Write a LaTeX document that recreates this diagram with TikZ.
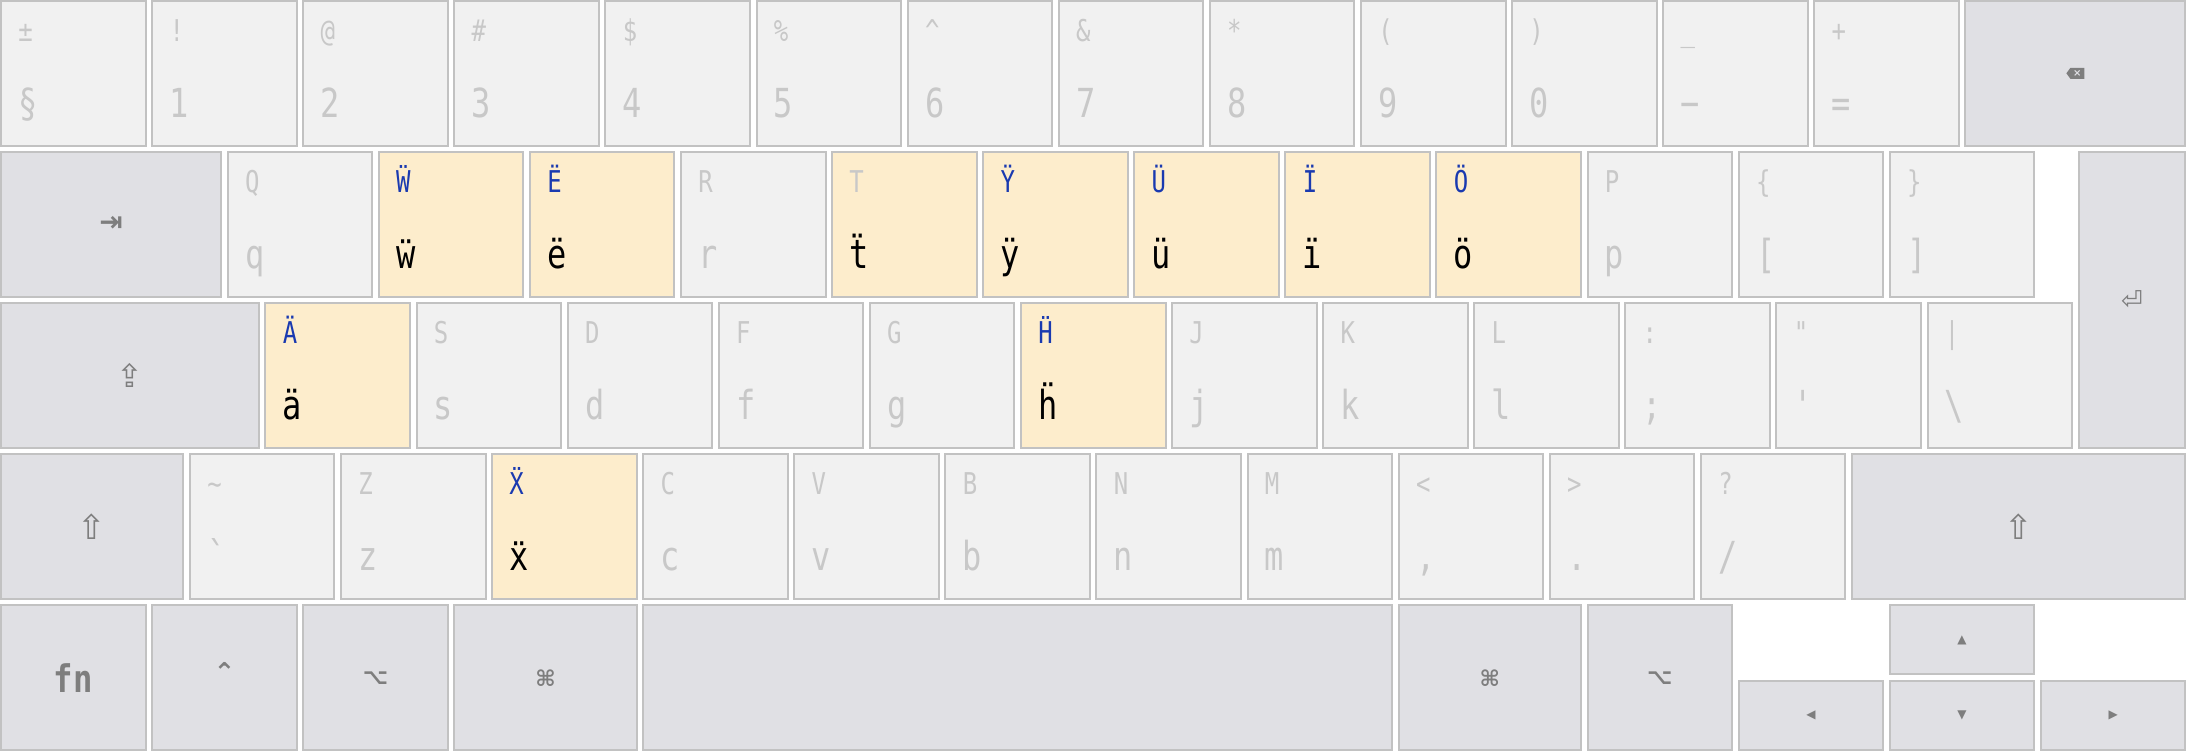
\documentclass[tikz,border=0pt]{standalone}
\usepackage{fontspec}
\newfontfamily\kf[FakeStretch=0.8]{DejaVu Sans Mono}
\newfontfamily\kfb[FakeStretch=0.85]{DejaVu Sans Mono Bold}
\newfontfamily\symf{DejaVu Sans}
\newfontfamily\symb{DejaVu Sans Bold}
\definecolor{keyfill}{HTML}{F1F1F1}
\definecolor{modfill}{HTML}{E0E0E4}
\definecolor{hlfill}{HTML}{FDEDCC}
\definecolor{keyline}{HTML}{C2C2C2}
\definecolor{dimtext}{HTML}{C8C8C8}
\definecolor{bluetext}{HTML}{1A3AB0}
\definecolor{modtext}{HTML}{7E7E7E}
\newcommand\Key[6]{\node[keybase,#6,minimum width={(#4*151.1-6.5)*0.5pt},minimum height={(#5*151.1-6.5)*0.5pt}] (#1) at ({#2*151.1+1+(#4*151.1-6.5)/2},{#3*151.1+1+(#5*151.1-6.5)/2}) {};}
\newcommand\Lab[5]{\path (#1.north west) ++(17,40) node[uplab,#4] (#1u) {#2};\path (#1.north west) ++(17,116) node[lolab,#5] (#1l) {#3};}
\newcommand\Sym[3]{\node[glyph,#3] (#1s) at (#1) {#2};}
\begin{document}
\begin{tikzpicture}[x=0.5pt,y=-0.5pt,
  keybase/.style={draw=keyline,line width=1pt,rectangle,inner sep=0pt,outer sep=0pt},
  plain/.style={fill=keyfill}, mod/.style={fill=modfill}, hl/.style={fill=hlfill},
  uplab/.style={anchor=base west,inner sep=0pt,font=\fontsize{15}{15}\kf},
  lolab/.style={anchor=base west,inner sep=0pt,font=\fontsize{20}{20}\kf},
  dim/.style={text=dimtext}, blu/.style={text=bluetext}, blk/.style={text=black},
  glyph/.style={text=modtext,inner sep=0pt}]
\useasboundingbox (0,0) rectangle (2186,751);
% row 0
\Key{kA0}{0}{0}{1}{1}{plain}\Lab{kA0}{±}{§}{dim}{dim}
\Key{kA1}{1}{0}{1}{1}{plain}\Lab{kA1}{!}{1}{dim}{dim}
\Key{kA2}{2}{0}{1}{1}{plain}\Lab{kA2}{@}{2}{dim}{dim}
\Key{kA3}{3}{0}{1}{1}{plain}\Lab{kA3}{\#}{3}{dim}{dim}
\Key{kA4}{4}{0}{1}{1}{plain}\Lab{kA4}{\$}{4}{dim}{dim}
\Key{kA5}{5}{0}{1}{1}{plain}\Lab{kA5}{\%}{5}{dim}{dim}
\Key{kA6}{6}{0}{1}{1}{plain}\Lab{kA6}{\textasciicircum}{6}{dim}{dim}
\Key{kA7}{7}{0}{1}{1}{plain}\Lab{kA7}{\&}{7}{dim}{dim}
\Key{kA8}{8}{0}{1}{1}{plain}\Lab{kA8}{*}{8}{dim}{dim}
\Key{kA9}{9}{0}{1}{1}{plain}\Lab{kA9}{(}{9}{dim}{dim}
\Key{kA10}{10}{0}{1}{1}{plain}\Lab{kA10}{)}{0}{dim}{dim}
\Key{kA11}{11}{0}{1}{1}{plain}\Lab{kA11}{\_}{−}{dim}{dim}
\Key{kA12}{12}{0}{1}{1}{plain}\Lab{kA12}{+}{=}{dim}{dim}
\Key{kBsp}{13}{0}{1.5}{1}{mod}
\fill[modtext] (kBsp) ++(-9,0) -- ++(4,-5.5) -- ++(14,0) -- ++(0,11) -- ++(-14,0) -- cycle;
\node[text=modfill,inner sep=0pt,font=\fontsize{5}{5}\symb] (kBspx) at ([xshift=1pt]kBsp) {×};
% row 1
\Key{kTab}{0}{1}{1.5}{1}{mod}\Sym{kTab}{⇥}{font=\fontsize{14}{14}\symb}
\Key{kQ}{1.5}{1}{1}{1}{plain}\Lab{kQ}{Q}{q}{dim}{dim}
\Key{kW}{2.5}{1}{1}{1}{hl}\Lab{kW}{Ẅ}{ẅ}{blu}{blk}
\Key{kE}{3.5}{1}{1}{1}{hl}\Lab{kE}{Ë}{ë}{blu}{blk}
\Key{kR}{4.5}{1}{1}{1}{plain}\Lab{kR}{R}{r}{dim}{dim}
\Key{kT}{5.5}{1}{1}{1}{hl}\Lab{kT}{T}{ẗ}{dim}{blk}
\Key{kY}{6.5}{1}{1}{1}{hl}\Lab{kY}{Ÿ}{ÿ}{blu}{blk}
\Key{kU}{7.5}{1}{1}{1}{hl}\Lab{kU}{Ü}{ü}{blu}{blk}
\Key{kI}{8.5}{1}{1}{1}{hl}\Lab{kI}{Ï}{ï}{blu}{blk}
\Key{kO}{9.5}{1}{1}{1}{hl}\Lab{kO}{Ö}{ö}{blu}{blk}
\Key{kP}{10.5}{1}{1}{1}{plain}\Lab{kP}{P}{p}{dim}{dim}
\Key{kLb}{11.5}{1}{1}{1}{plain}\Lab{kLb}{\{}{[}{dim}{dim}
\Key{kRb}{12.5}{1}{1}{1}{plain}\Lab{kRb}{\}}{]}{dim}{dim}
\Key{kRet}{13.75}{1}{0.75}{2}{mod}\Sym{kRet}{⏎}{font=\fontsize{13}{13}\symf}
% row 2
\Key{kCaps}{0}{2}{1.75}{1}{mod}\Sym{kCaps}{⇪}{font=\fontsize{16}{16}\symf}
\Key{kAa}{1.75}{2}{1}{1}{hl}\Lab{kAa}{Ä}{ä}{blu}{blk}
\Key{kS}{2.75}{2}{1}{1}{plain}\Lab{kS}{S}{s}{dim}{dim}
\Key{kD}{3.75}{2}{1}{1}{plain}\Lab{kD}{D}{d}{dim}{dim}
\Key{kF}{4.75}{2}{1}{1}{plain}\Lab{kF}{F}{f}{dim}{dim}
\Key{kG}{5.75}{2}{1}{1}{plain}\Lab{kG}{G}{g}{dim}{dim}
\Key{kH}{6.75}{2}{1}{1}{hl}\Lab{kH}{Ḧ}{ḧ}{blu}{blk}
\Key{kJ}{7.75}{2}{1}{1}{plain}\Lab{kJ}{J}{j}{dim}{dim}
\Key{kK}{8.75}{2}{1}{1}{plain}\Lab{kK}{K}{k}{dim}{dim}
\Key{kL}{9.75}{2}{1}{1}{plain}\Lab{kL}{L}{l}{dim}{dim}
\Key{kSc}{10.75}{2}{1}{1}{plain}\Lab{kSc}{:}{;}{dim}{dim}
\Key{kQt}{11.75}{2}{1}{1}{plain}\Lab{kQt}{"}{'}{dim}{dim}
\Key{kBs}{12.75}{2}{1}{1}{plain}\Lab{kBs}{|}{\textbackslash}{dim}{dim}
% row 3
\Key{kLsh}{0}{3}{1.25}{1}{mod}\Sym{kLsh}{⇧}{font=\fontsize{17}{17}\symf}
\Key{kGr}{1.25}{3}{1}{1}{plain}\Lab{kGr}{\textasciitilde}{`}{dim}{dim}
\Key{kZ}{2.25}{3}{1}{1}{plain}\Lab{kZ}{Z}{z}{dim}{dim}
\Key{kX}{3.25}{3}{1}{1}{hl}\Lab{kX}{Ẍ}{ẍ}{blu}{blk}
\Key{kC}{4.25}{3}{1}{1}{plain}\Lab{kC}{C}{c}{dim}{dim}
\Key{kV}{5.25}{3}{1}{1}{plain}\Lab{kV}{V}{v}{dim}{dim}
\Key{kB}{6.25}{3}{1}{1}{plain}\Lab{kB}{B}{b}{dim}{dim}
\Key{kN}{7.25}{3}{1}{1}{plain}\Lab{kN}{N}{n}{dim}{dim}
\Key{kM}{8.25}{3}{1}{1}{plain}\Lab{kM}{M}{m}{dim}{dim}
\Key{kCm}{9.25}{3}{1}{1}{plain}\Lab{kCm}{<}{,}{dim}{dim}
\Key{kPd}{10.25}{3}{1}{1}{plain}\Lab{kPd}{>}{.}{dim}{dim}
\Key{kSl}{11.25}{3}{1}{1}{plain}\Lab{kSl}{?}{/}{dim}{dim}
\Key{kRsh}{12.25}{3}{2.25}{1}{mod}\Sym{kRsh}{⇧}{font=\fontsize{17}{17}\symf}
% row 4
\Key{kFn}{0}{4}{1}{1}{mod}\Sym{kFn}{fn}{font=\fontsize{19}{19}\kfb}
\Key{kCtl}{1}{4}{1}{1}{mod}\Sym{kCtl}{⌃}{font=\fontsize{13}{13}\symb,yshift=3pt}
\Key{kOpt}{2}{4}{1}{1}{mod}\Sym{kOpt}{⌥}{font=\fontsize{11}{11}\symb}
\Key{kCmd}{3}{4}{1.25}{1}{mod}\Sym{kCmd}{⌘}{font=\fontsize{11}{11}\symb}
\Key{kSpc}{4.25}{4}{5}{1}{mod}
\Key{kRcmd}{9.25}{4}{1.25}{1}{mod}\Sym{kRcmd}{⌘}{font=\fontsize{11}{11}\symb}
\Key{kRopt}{10.5}{4}{1}{1}{mod}\Sym{kRopt}{⌥}{font=\fontsize{11}{11}\symb}
\Key{kLeft}{11.5}{4.5}{1}{0.5}{mod}\Sym{kLeft}{◀}{font=\fontsize{6}{6}\symf}
\Key{kUp}{12.5}{4}{1}{0.5}{mod}\Sym{kUp}{▲}{font=\fontsize{6}{6}\symf}
\Key{kDown}{12.5}{4.5}{1}{0.5}{mod}\Sym{kDown}{▼}{font=\fontsize{6}{6}\symf}
\Key{kRight}{13.5}{4.5}{1}{0.5}{mod}\Sym{kRight}{▶}{font=\fontsize{6}{6}\symf}
\end{tikzpicture}
\end{document}
